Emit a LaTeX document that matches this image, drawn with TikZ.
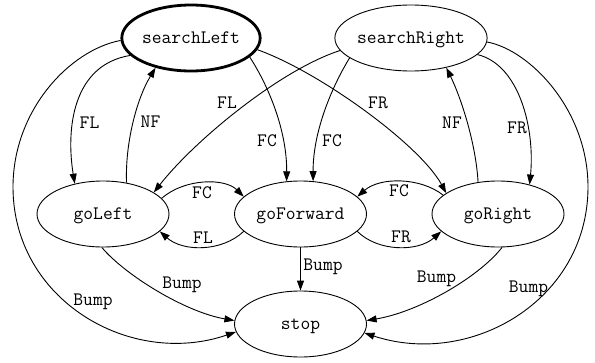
\documentclass[tikz,border=0pt]{standalone}
\usetikzlibrary{arrows.meta,shapes.geometric}
\newcommand\dfont{\fontsize{19}{22}\selectfont\ttfamily}
\begin{document}
\begin{tikzpicture}[x=1pt,y=-1pt,
  state/.style={draw, ellipse, line width=0.9pt, minimum width=132pt, minimum height=66pt,
    inner sep=0pt, font=\dfont, text height=11.6pt, text depth=0pt},
  edge/.style={line width=0.9pt, -{Triangle[length=10pt,width=7pt]}},
  lbl/.style={font=\dfont, anchor=base, inner sep=0pt}]
\useasboundingbox (0,0) rectangle (595,362);
\node[state, line width=2.8pt] (SL) at (191,38) {searchLeft};
\node[state] (SR) at (411,38) {searchRight};
\node[state] (GL) at (103,214) {goLeft};
\node[state] (GF) at (300.5,214) {goForward};
\node[state] (GR) at (498,214) {goRight};
\node[state] (ST) at (300.5,324) {stop};
% from searchLeft
\draw[edge] (SL.196) .. controls (72,65) and (66,130) .. (GL.133) node[lbl,at={(89.5,128)}] {FL};
\draw[edge] (GL.53) .. controls (125,145) and (136,100) .. (SL.220) node[lbl,at={(150.5,127)}] {NF};
\draw[edge] (SL.342) .. controls (268,85) and (287,130) .. (GF.113) node[lbl,at={(267,146)}] {FC};
\draw[edge] (SL.350) .. controls (320,72) and (420,145) .. (GR.158) node[lbl,at={(378,108)}] {FR};
\draw[edge] (SL.182) .. controls (70,50) and (13,110) .. (13,187) .. controls (13,300) and (130,368) .. (ST.187) node[lbl,at={(93,305)}] {Bump};
% from searchRight
\draw[edge] (SR.190) .. controls (280,70) and (195,140) .. (GL.23) node[lbl,at={(227,108)}] {FL};
\draw[edge] (SR.198) .. controls (333,85) and (313,130) .. (GF.69) node[lbl,at={(332,146)}] {FC};
\draw[edge] (GR.122) .. controls (476,145) and (462,100) .. (SR.320) node[lbl,at={(452,128)}] {NF};
\draw[edge] (SR.346) .. controls (520,65) and (535,130) .. (GR.43) node[lbl,at={(517,133)}] {FR};
\draw[edge] (SR.357) .. controls (530,50) and (588,110) .. (588,187) .. controls (588,300) and (471,368) .. (ST.352) node[lbl,at={(528.5,292)}] {Bump};
% middle row
\draw[edge] (GL.15) .. controls (185,178) and (225,178) .. (GF.163) node[lbl,at={(202,198)}] {FC};
\draw[edge] (GF.197) .. controls (222,252) and (183,252) .. (GL.343) node[lbl,at={(203,243)}] {FL};
\draw[edge] (GR.161) .. controls (420,177) and (380,177) .. (GF.17) node[lbl,at={(399,196)}] {FC};
\draw[edge] (GF.343) .. controls (378,252) and (418,252) .. (GR.197) node[lbl,at={(401,242)}] {FR};
% to stop
\draw[edge] (GF.south) -- (ST.north) node[lbl,at={(323,270)}] {Bump};
\draw[edge] (GL.268) .. controls (125,275) and (185,312) .. (ST.177) node[lbl,at={(182,288)}] {Bump};
\draw[edge] (GR.277) .. controls (478,278) and (418,312) .. (ST.3) node[lbl,at={(436.5,282)}] {Bump};
\end{tikzpicture}
\end{document}
